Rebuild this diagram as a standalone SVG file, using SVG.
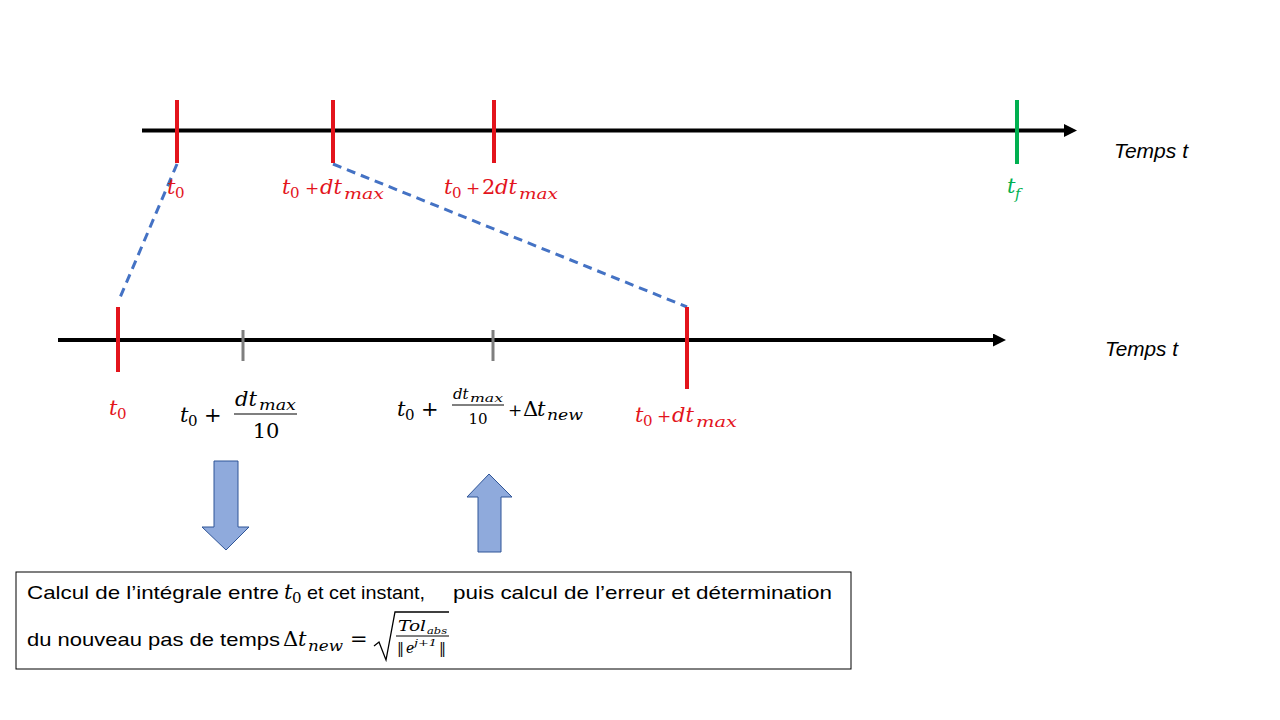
<svg xmlns="http://www.w3.org/2000/svg" width="1280" height="720" viewBox="0 0 1280 720">
<style>
  .axis { stroke: #000; stroke-width: 4; fill: none; }
  .tick-red { stroke: #E3141C; stroke-width: 4; }
  .tick-green { stroke: #00B050; stroke-width: 4; }
  .tick-gray { stroke: #7F7F7F; stroke-width: 3; }
  .dash { stroke: #4472C4; stroke-width: 3; stroke-dasharray: 9 6; fill: none; }
  .m { font-family: "DejaVu Serif", "Liberation Serif", serif; font-size: 21px; }
  .i { font-style: italic; }
  .sub { font-size: 15px; }
  .plus { font-size: 17px; }
  .red { fill: #E3141C; }
  .green { fill: #00B050; }
  .blk { fill: #000; }
  .sans { font-family: "Liberation Sans", "Noto Sans", sans-serif; font-size: 19px; fill: #000; }
  .lbl { font-family: "Liberation Sans", "Noto Sans", sans-serif; font-size: 20px; font-style: italic; fill: #000; }
  .block { fill: #8FAADC; stroke: #2F5597; stroke-width: 1; }
</style>
<defs>
  <marker id="head" markerUnits="userSpaceOnUse" markerWidth="14" markerHeight="14" refX="3" refY="6.5" orient="auto">
    <path d="M0,0 L13,6.5 L0,13 z" fill="#000"/>
  </marker>
</defs>
<rect width="1280" height="720" fill="#fff"/>

<!-- connectors -->
<g id="connectors">
  <line class="axis" x1="142" y1="130.5" x2="1067" y2="130.5" marker-end="url(#head)"/>
  <line class="axis" x1="58" y1="340" x2="996" y2="340" marker-end="url(#head)"/>
  <line class="dash" x1="177" y1="164" x2="119" y2="300"/>
  <line class="dash" x1="333" y1="164" x2="687" y2="307"/>
</g>

<!-- top timeline -->
<g id="top-t0">
  <line class="tick-red" x1="177" y1="100" x2="177" y2="163"/>
  <text class="m red"><tspan class="i" x="167" y="194">t</tspan><tspan class="sub" x="175" y="198">0</tspan></text>
</g>
<g id="top-t0-dtmax">
  <line class="tick-red" x1="333" y1="100" x2="333" y2="163"/>
  <text class="m red"><tspan class="i" x="282" y="194">t</tspan><tspan class="sub" x="290" y="198">0</tspan><tspan class="plus" x="305" y="194">+</tspan><tspan class="i" x="320" y="194">dt</tspan><tspan class="i sub" x="344" y="199" textLength="40" lengthAdjust="spacingAndGlyphs">max</tspan></text>
</g>
<g id="top-t0-2dtmax">
  <line class="tick-red" x1="494" y1="100" x2="494" y2="163"/>
  <text class="m red"><tspan class="i" x="444" y="194">t</tspan><tspan class="sub" x="452" y="198">0</tspan><tspan class="plus" x="466" y="194">+</tspan><tspan x="482" y="194">2</tspan><tspan class="i" x="495" y="194">dt</tspan><tspan class="i sub" x="519" y="199" textLength="39" lengthAdjust="spacingAndGlyphs">max</tspan></text>
</g>
<g id="top-tf">
  <line class="tick-green" x1="1017" y1="100" x2="1017" y2="164"/>
  <text class="m green"><tspan class="i" x="1007" y="193">t</tspan><tspan class="i sub" x="1015" y="199">f</tspan></text>
</g>
<g id="top-label">
  <text class="lbl" x="1114" y="158" textLength="74" lengthAdjust="spacingAndGlyphs">Temps t</text>
</g>

<!-- bottom timeline -->
<g id="bot-t0">
  <line class="tick-red" x1="118" y1="307" x2="118" y2="372"/>
  <text class="m red"><tspan class="i" x="109" y="415">t</tspan><tspan class="sub" x="117" y="419">0</tspan></text>
</g>
<g id="bot-t0-frac">
  <line class="tick-gray" x1="243" y1="330" x2="243" y2="361"/>
  <text class="m blk"><tspan class="i" x="180" y="422">t</tspan><tspan class="sub" x="188" y="426">0</tspan><tspan x="204" y="422">+</tspan><tspan class="i" x="235" y="406">dt</tspan><tspan class="i sub" x="259" y="410" textLength="37" lengthAdjust="spacingAndGlyphs">max</tspan></text>
  <text class="m blk" x="266" y="438" text-anchor="middle">10</text>
  <line x1="234" y1="414" x2="297" y2="414" stroke="#000" stroke-width="1.2"/>
</g>
<g id="bot-t0-frac-dtnew">
  <line class="tick-gray" x1="493" y1="330" x2="493" y2="361"/>
  <text class="m blk"><tspan class="i" x="397" y="416">t</tspan><tspan class="sub" x="405" y="420">0</tspan><tspan x="421" y="416">+</tspan><tspan class="i" x="453" y="399" style="font-size:15px">dt</tspan><tspan class="i" x="470" y="402" style="font-size:11px" textLength="33" lengthAdjust="spacingAndGlyphs">max</tspan><tspan class="plus" x="508" y="416">+</tspan><tspan x="523" y="416">Δ</tspan><tspan class="i" x="537" y="416">t</tspan><tspan class="i sub" x="547" y="420" textLength="36" lengthAdjust="spacingAndGlyphs">new</tspan></text>
  <text class="m blk" x="478" y="424" text-anchor="middle" style="font-size:15px">10</text>
  <line x1="452" y1="405" x2="504" y2="405" stroke="#000" stroke-width="1"/>
</g>
<g id="bot-t0-dtmax">
  <line class="tick-red" x1="687" y1="307" x2="687" y2="389"/>
  <text class="m red"><tspan class="i" x="635" y="422">t</tspan><tspan class="sub" x="643" y="426">0</tspan><tspan class="plus" x="657" y="422">+</tspan><tspan class="i" x="672" y="422">dt</tspan><tspan class="i sub" x="696" y="427" textLength="41" lengthAdjust="spacingAndGlyphs">max</tspan></text>
</g>
<g id="bot-label">
  <text class="lbl" x="1105" y="356" textLength="73" lengthAdjust="spacingAndGlyphs">Temps t</text>
</g>

<!-- block arrows -->
<g id="arrow-down">
  <polygon class="block" points="214,461 238,461 238,527 249,527 226,550 202,527 214,527"/>
</g>
<g id="arrow-up">
  <polygon class="block" points="489,474 512,497 501,497 501,552 478,552 478,497 467,497"/>
</g>

<!-- text box -->
<g id="box">
  <rect x="16" y="572" width="835" height="97" fill="#fff" stroke="#000" stroke-width="1"/>
  <text class="sans" x="27" y="599" textLength="252" lengthAdjust="spacingAndGlyphs">Calcul de l’intégrale entre</text>
  <text class="m blk"><tspan class="i" x="284" y="599">t</tspan><tspan class="sub" x="292" y="603">0</tspan></text>
  <text class="sans" x="307" y="599" textLength="118" lengthAdjust="spacingAndGlyphs">et cet instant,</text>
  <text class="sans" x="453" y="599" textLength="379" lengthAdjust="spacingAndGlyphs">puis calcul de l’erreur et détermination</text>
  <text class="sans" x="27" y="646" textLength="253" lengthAdjust="spacingAndGlyphs">du nouveau pas de temps</text>
  <text class="m blk"><tspan x="283" y="646">Δ</tspan><tspan class="i" x="298" y="646">t</tspan><tspan class="i sub" x="308" y="651" textLength="35" lengthAdjust="spacingAndGlyphs">new</tspan><tspan x="350" y="646">=</tspan></text>
  <path d="M374,646 L379,642 L386,660 L395,612 L449,612" fill="none" stroke="#000" stroke-width="1.3"/>
  <text class="m blk" style="font-size:14px"><tspan class="i" x="398" y="631" textLength="28" lengthAdjust="spacingAndGlyphs">Tol</tspan><tspan class="i" x="427" y="634" style="font-size:10px" textLength="20" lengthAdjust="spacingAndGlyphs">abs</tspan><tspan x="397" y="653">‖</tspan><tspan class="i" x="406" y="653">e</tspan><tspan class="i" x="414" y="646" style="font-size:10px" textLength="23" lengthAdjust="spacingAndGlyphs">j+1</tspan><tspan x="439" y="653">‖</tspan></text>
  <line x1="396" y1="636" x2="449" y2="636" stroke="#000" stroke-width="1"/>
</g>
</svg>
